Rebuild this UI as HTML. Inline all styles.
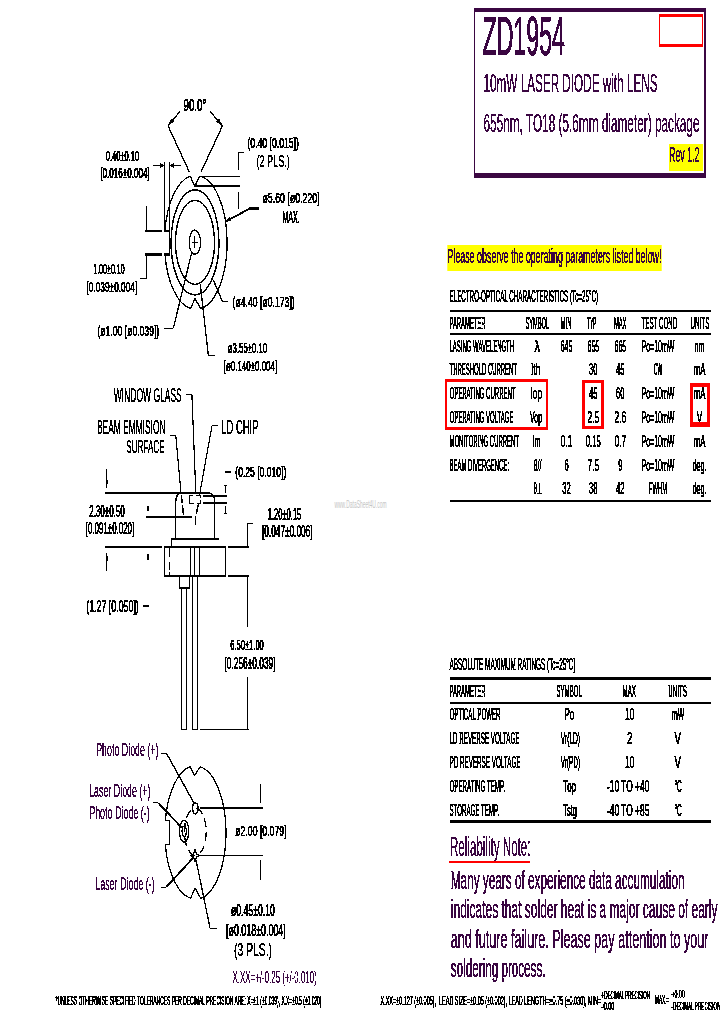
<!DOCTYPE html>
<html lang="en"><head><meta charset="utf-8"><title>ZD1954 10mW Laser Diode with Lens</title>
<style>
html,body{margin:0;padding:0;background:#fff;}
body{width:720px;height:1012px;overflow:hidden;position:relative;}
svg{position:absolute;left:0;top:0;display:block;}
svg text{font-family:"Liberation Sans",sans-serif;white-space:pre;}
</style></head><body>
<svg width="720" height="1012" viewBox="0 0 720 1012">
<defs><filter id="bin" x="0" y="0" width="720" height="1012" filterUnits="userSpaceOnUse" color-interpolation-filters="sRGB"><feComponentTransfer><feFuncA type="discrete" tableValues="0 0 1 1 1"/></feComponentTransfer></filter></defs>
<rect x="669.00" y="144.00" width="34.00" height="27.00" fill="#ff0"/>
<rect x="447.30" y="245.00" width="214.40" height="26.00" fill="#ff0"/>
<g filter="url(#bin)">
<rect x="474.00" y="8.00" width="232.00" height="4.00" fill="#3b0742"/>
<rect x="474.00" y="173.00" width="232.00" height="4.60" fill="#3b0742"/>
<rect x="474.00" y="8.00" width="1.30" height="169.00" fill="#3b0742"/>
<rect x="704.00" y="8.00" width="2.00" height="169.00" fill="#3b0742"/>
<rect x="659.00" y="14.00" width="44.00" height="3.00" fill="#f00"/>
<rect x="659.00" y="44.00" width="44.00" height="3.00" fill="#f00"/>
<rect x="659.00" y="14.00" width="1.00" height="33.00" fill="#f00"/>
<rect x="702.00" y="14.00" width="1.00" height="33.00" fill="#f00"/>
<text x="482.50" y="54.70" font-size="55.65" textLength="82.40" lengthAdjust="spacingAndGlyphs" fill="#3b0742" stroke="#3b0742" stroke-width="0.6">ZD1954</text>
<text x="483.50" y="91.60" font-size="25.80" textLength="174.00" lengthAdjust="spacingAndGlyphs" fill="#3b0742" stroke="#3b0742" stroke-width="0.2">10mW LASER DIODE with LENS</text>
<text x="483.50" y="131.90" font-size="25.80" textLength="216.00" lengthAdjust="spacingAndGlyphs" fill="#3b0742" stroke="#3b0742" stroke-width="0.2">655nm, TO18 (5.6mm diameter) package</text>
<text x="669.00" y="161.88" font-size="21.38" textLength="30.50" lengthAdjust="spacingAndGlyphs" fill="#3b0742" stroke="#3b0742" stroke-width="0.25">Rev 1.2</text>
<text x="447.50" y="263.18" font-size="20.65" textLength="214.00" lengthAdjust="spacingAndGlyphs" fill="#3b0742" stroke="#3b0742" stroke-width="0.25">Please observe the operating parameters listed below!</text>
<text x="449.50" y="301.77" font-size="16.30" textLength="148.50" lengthAdjust="spacingAndGlyphs" fill="#000" stroke="#000" stroke-width="0.45">ELECTRO-OPTICAL CHARACTERISTICS (Tc=25°C)</text>
<rect x="450.00" y="309.70" width="261.00" height="2.00" fill="#000"/>
<rect x="450.00" y="333.00" width="261.00" height="2.00" fill="#000"/>
<rect x="450.00" y="500.00" width="261.00" height="2.00" fill="#000"/>
<text x="449.50" y="328.77" font-size="16.30" textLength="36.00" lengthAdjust="spacingAndGlyphs" fill="#000" stroke="#000" stroke-width="0.45">PARAMETER</text>
<text x="525.50" y="328.77" font-size="16.30" textLength="23.70" lengthAdjust="spacingAndGlyphs" fill="#000" stroke="#000" stroke-width="0.45">SYMBOL</text>
<text x="560.50" y="328.77" font-size="16.30" textLength="11.00" lengthAdjust="spacingAndGlyphs" fill="#000" stroke="#000" stroke-width="0.45">MIN</text>
<text x="587.30" y="328.77" font-size="16.30" textLength="9.20" lengthAdjust="spacingAndGlyphs" fill="#000" stroke="#000" stroke-width="0.45">TYP</text>
<text x="613.90" y="328.77" font-size="16.30" textLength="12.60" lengthAdjust="spacingAndGlyphs" fill="#000" stroke="#000" stroke-width="0.45">MAX</text>
<text x="641.50" y="328.77" font-size="16.30" textLength="35.70" lengthAdjust="spacingAndGlyphs" fill="#000" stroke="#000" stroke-width="0.45">TEST COND</text>
<text x="690.50" y="328.77" font-size="16.30" textLength="19.00" lengthAdjust="spacingAndGlyphs" fill="#000" stroke="#000" stroke-width="0.45">UNITS</text>
<text x="449.50" y="351.77" font-size="16.30" textLength="64.50" lengthAdjust="spacingAndGlyphs" fill="#000" stroke="#000" stroke-width="0.45">LASING WAVELENGTH</text>
<text x="449.50" y="375.27" font-size="16.30" textLength="67.50" lengthAdjust="spacingAndGlyphs" fill="#000" stroke="#000" stroke-width="0.45">THRESHOLD CURRENT</text>
<text x="449.50" y="399.27" font-size="16.30" textLength="66.00" lengthAdjust="spacingAndGlyphs" fill="#000" stroke="#000" stroke-width="0.45">OPERATING CURRENT</text>
<text x="449.50" y="422.97" font-size="16.30" textLength="64.00" lengthAdjust="spacingAndGlyphs" fill="#000" stroke="#000" stroke-width="0.45">OPERATING VOLTAGE</text>
<text x="449.50" y="447.27" font-size="16.30" textLength="69.50" lengthAdjust="spacingAndGlyphs" fill="#000" stroke="#000" stroke-width="0.45">MONITORING CURRENT</text>
<text x="449.50" y="470.97" font-size="16.30" textLength="59.50" lengthAdjust="spacingAndGlyphs" fill="#000" stroke="#000" stroke-width="0.45">BEAM DIVERGENCE:</text>
<text x="534.50" y="351.77" font-size="16.30" textLength="5.50" lengthAdjust="spacingAndGlyphs" fill="#000" stroke="#000" stroke-width="0.45">λ</text>
<text x="531.00" y="375.27" font-size="16.30" textLength="9.50" lengthAdjust="spacingAndGlyphs" fill="#000" stroke="#000" stroke-width="0.45">Ith</text>
<text x="530.50" y="399.27" font-size="16.30" textLength="11.50" lengthAdjust="spacingAndGlyphs" fill="#000" stroke="#000" stroke-width="0.45">Iop</text>
<text x="530.00" y="422.97" font-size="16.30" textLength="12.00" lengthAdjust="spacingAndGlyphs" fill="#000" stroke="#000" stroke-width="0.45">Vop</text>
<text x="532.50" y="447.27" font-size="16.30" textLength="8.00" lengthAdjust="spacingAndGlyphs" fill="#000" stroke="#000" stroke-width="0.45">Im</text>
<text x="533.50" y="470.97" font-size="16.30" textLength="8.00" lengthAdjust="spacingAndGlyphs" fill="#000" stroke="#000" stroke-width="0.45">θ//</text>
<text x="533.50" y="494.07" font-size="16.30" textLength="8.50" lengthAdjust="spacingAndGlyphs" fill="#000" stroke="#000" stroke-width="0.45">θ⊥</text>
<text x="560.75" y="351.77" font-size="16.30" textLength="11.50" lengthAdjust="spacingAndGlyphs" fill="#000" stroke="#000" stroke-width="0.45">645</text>
<text x="587.55" y="351.77" font-size="16.30" textLength="11.50" lengthAdjust="spacingAndGlyphs" fill="#000" stroke="#000" stroke-width="0.45">655</text>
<text x="614.55" y="351.77" font-size="16.30" textLength="11.50" lengthAdjust="spacingAndGlyphs" fill="#000" stroke="#000" stroke-width="0.45">665</text>
<text x="641.50" y="351.77" font-size="16.30" textLength="33.00" lengthAdjust="spacingAndGlyphs" fill="#000" stroke="#000" stroke-width="0.45">Po=10mW</text>
<text x="694.50" y="351.77" font-size="16.30" textLength="10.00" lengthAdjust="spacingAndGlyphs" fill="#000" stroke="#000" stroke-width="0.45">nm</text>
<text x="589.05" y="375.27" font-size="16.30" textLength="8.50" lengthAdjust="spacingAndGlyphs" fill="#000" stroke="#000" stroke-width="0.45">30</text>
<text x="616.05" y="375.27" font-size="16.30" textLength="8.50" lengthAdjust="spacingAndGlyphs" fill="#000" stroke="#000" stroke-width="0.45">45</text>
<text x="653.75" y="375.27" font-size="16.30" textLength="8.50" lengthAdjust="spacingAndGlyphs" fill="#000" stroke="#000" stroke-width="0.45">CW</text>
<text x="693.75" y="375.27" font-size="16.30" textLength="11.50" lengthAdjust="spacingAndGlyphs" fill="#000" stroke="#000" stroke-width="0.45">mA</text>
<text x="589.05" y="399.27" font-size="16.30" textLength="8.50" lengthAdjust="spacingAndGlyphs" fill="#000" stroke="#000" stroke-width="0.45">45</text>
<text x="616.05" y="399.27" font-size="16.30" textLength="8.50" lengthAdjust="spacingAndGlyphs" fill="#000" stroke="#000" stroke-width="0.45">60</text>
<text x="641.50" y="399.27" font-size="16.30" textLength="33.00" lengthAdjust="spacingAndGlyphs" fill="#000" stroke="#000" stroke-width="0.45">Po=10mW</text>
<text x="693.75" y="399.27" font-size="16.30" textLength="11.50" lengthAdjust="spacingAndGlyphs" fill="#000" stroke="#000" stroke-width="0.45">mA</text>
<text x="587.55" y="422.97" font-size="16.30" textLength="11.50" lengthAdjust="spacingAndGlyphs" fill="#000" stroke="#000" stroke-width="0.45">2.5</text>
<text x="614.55" y="422.97" font-size="16.30" textLength="11.50" lengthAdjust="spacingAndGlyphs" fill="#000" stroke="#000" stroke-width="0.45">2.6</text>
<text x="641.50" y="422.97" font-size="16.30" textLength="33.00" lengthAdjust="spacingAndGlyphs" fill="#000" stroke="#000" stroke-width="0.45">Po=10mW</text>
<text x="696.75" y="422.97" font-size="16.30" textLength="5.50" lengthAdjust="spacingAndGlyphs" fill="#000" stroke="#000" stroke-width="0.45">V</text>
<text x="560.75" y="447.27" font-size="16.30" textLength="11.50" lengthAdjust="spacingAndGlyphs" fill="#000" stroke="#000" stroke-width="0.45">0.1</text>
<text x="585.80" y="447.27" font-size="16.30" textLength="15.00" lengthAdjust="spacingAndGlyphs" fill="#000" stroke="#000" stroke-width="0.45">0.15</text>
<text x="614.55" y="447.27" font-size="16.30" textLength="11.50" lengthAdjust="spacingAndGlyphs" fill="#000" stroke="#000" stroke-width="0.45">0.7</text>
<text x="641.50" y="447.27" font-size="16.30" textLength="33.00" lengthAdjust="spacingAndGlyphs" fill="#000" stroke="#000" stroke-width="0.45">Po=10mW</text>
<text x="693.75" y="447.27" font-size="16.30" textLength="11.50" lengthAdjust="spacingAndGlyphs" fill="#000" stroke="#000" stroke-width="0.45">mA</text>
<text x="564.40" y="470.97" font-size="16.30" textLength="4.20" lengthAdjust="spacingAndGlyphs" fill="#000" stroke="#000" stroke-width="0.45">6</text>
<text x="587.55" y="470.97" font-size="16.30" textLength="11.50" lengthAdjust="spacingAndGlyphs" fill="#000" stroke="#000" stroke-width="0.45">7.5</text>
<text x="618.20" y="470.97" font-size="16.30" textLength="4.20" lengthAdjust="spacingAndGlyphs" fill="#000" stroke="#000" stroke-width="0.45">9</text>
<text x="641.50" y="470.97" font-size="16.30" textLength="33.00" lengthAdjust="spacingAndGlyphs" fill="#000" stroke="#000" stroke-width="0.45">Po=10mW</text>
<text x="692.75" y="470.97" font-size="16.30" textLength="13.50" lengthAdjust="spacingAndGlyphs" fill="#000" stroke="#000" stroke-width="0.45">deg.</text>
<text x="562.25" y="494.07" font-size="16.30" textLength="8.50" lengthAdjust="spacingAndGlyphs" fill="#000" stroke="#000" stroke-width="0.45">32</text>
<text x="589.05" y="494.07" font-size="16.30" textLength="8.50" lengthAdjust="spacingAndGlyphs" fill="#000" stroke="#000" stroke-width="0.45">38</text>
<text x="616.05" y="494.07" font-size="16.30" textLength="8.50" lengthAdjust="spacingAndGlyphs" fill="#000" stroke="#000" stroke-width="0.45">42</text>
<text x="649.00" y="494.07" font-size="16.30" textLength="18.00" lengthAdjust="spacingAndGlyphs" fill="#000" stroke="#000" stroke-width="0.45">FWHM</text>
<text x="692.75" y="494.07" font-size="16.30" textLength="13.50" lengthAdjust="spacingAndGlyphs" fill="#000" stroke="#000" stroke-width="0.45">deg.</text>
<rect x="445.50" y="379.50" width="102.50" height="2.00" fill="#f00"/>
<rect x="445.50" y="427.00" width="102.50" height="3.00" fill="#f00"/>
<rect x="445.50" y="379.50" width="1.60" height="50.50" fill="#f00"/>
<rect x="546.40" y="379.50" width="1.60" height="50.50" fill="#f00"/>
<rect x="582.30" y="380.00" width="21.50" height="2.40" fill="#f00"/>
<rect x="582.30" y="426.00" width="21.50" height="2.40" fill="#f00"/>
<rect x="582.30" y="380.00" width="2.20" height="48.40" fill="#f00"/>
<rect x="601.60" y="380.00" width="2.20" height="48.40" fill="#f00"/>
<rect x="690.00" y="383.30" width="20.00" height="3.80" fill="#f00"/>
<rect x="690.00" y="422.00" width="20.00" height="4.80" fill="#f00"/>
<rect x="690.00" y="383.30" width="2.50" height="43.50" fill="#f00"/>
<rect x="707.50" y="383.30" width="2.50" height="43.50" fill="#f00"/>
<text x="449.50" y="669.77" font-size="16.30" textLength="126.00" lengthAdjust="spacingAndGlyphs" fill="#000" stroke="#000" stroke-width="0.45">ABSOLUTE MAXIMUM RATINGS (Tc=25°C)</text>
<rect x="450.00" y="677.50" width="261.00" height="2.00" fill="#000"/>
<rect x="450.00" y="702.00" width="261.00" height="2.00" fill="#000"/>
<rect x="450.00" y="820.50" width="261.00" height="2.00" fill="#000"/>
<text x="449.50" y="697.27" font-size="16.30" textLength="36.00" lengthAdjust="spacingAndGlyphs" fill="#000" stroke="#000" stroke-width="0.45">PARAMETER</text>
<text x="556.50" y="697.27" font-size="16.30" textLength="25.30" lengthAdjust="spacingAndGlyphs" fill="#000" stroke="#000" stroke-width="0.45">SYMBOL</text>
<text x="622.50" y="697.27" font-size="16.30" textLength="13.50" lengthAdjust="spacingAndGlyphs" fill="#000" stroke="#000" stroke-width="0.45">MAX</text>
<text x="668.30" y="697.27" font-size="16.30" textLength="18.50" lengthAdjust="spacingAndGlyphs" fill="#000" stroke="#000" stroke-width="0.45">UNITS</text>
<text x="449.50" y="720.27" font-size="16.30" textLength="51.00" lengthAdjust="spacingAndGlyphs" fill="#000" stroke="#000" stroke-width="0.45">OPTICAL POWER</text>
<text x="449.50" y="743.98" font-size="16.30" textLength="70.00" lengthAdjust="spacingAndGlyphs" fill="#000" stroke="#000" stroke-width="0.45">LD REVERSE VOLTAGE</text>
<text x="449.50" y="767.77" font-size="16.30" textLength="71.00" lengthAdjust="spacingAndGlyphs" fill="#000" stroke="#000" stroke-width="0.45">PD REVERSE VOLTAGE</text>
<text x="449.50" y="791.77" font-size="16.30" textLength="55.50" lengthAdjust="spacingAndGlyphs" fill="#000" stroke="#000" stroke-width="0.45">OPERATING TEMP.</text>
<text x="449.50" y="815.57" font-size="16.30" textLength="49.50" lengthAdjust="spacingAndGlyphs" fill="#000" stroke="#000" stroke-width="0.45">STORAGE TEMP.</text>
<text x="564.50" y="720.27" font-size="16.30" textLength="9.80" lengthAdjust="spacingAndGlyphs" fill="#000" stroke="#000" stroke-width="0.45">Po</text>
<text x="560.80" y="743.98" font-size="16.30" textLength="19.20" lengthAdjust="spacingAndGlyphs" fill="#000" stroke="#000" stroke-width="0.45">Vr(LD)</text>
<text x="560.80" y="767.77" font-size="16.30" textLength="19.20" lengthAdjust="spacingAndGlyphs" fill="#000" stroke="#000" stroke-width="0.45">Vr(PD)</text>
<text x="563.30" y="791.77" font-size="16.30" textLength="12.70" lengthAdjust="spacingAndGlyphs" fill="#000" stroke="#000" stroke-width="0.45">Top</text>
<text x="563.30" y="815.57" font-size="16.30" textLength="13.50" lengthAdjust="spacingAndGlyphs" fill="#000" stroke="#000" stroke-width="0.45">Tstg</text>
<text x="625.00" y="720.27" font-size="16.30" textLength="9.30" lengthAdjust="spacingAndGlyphs" fill="#000" stroke="#000" stroke-width="0.45">10</text>
<text x="627.00" y="743.98" font-size="16.30" textLength="5.50" lengthAdjust="spacingAndGlyphs" fill="#000" stroke="#000" stroke-width="0.45">2</text>
<text x="625.00" y="767.77" font-size="16.30" textLength="9.30" lengthAdjust="spacingAndGlyphs" fill="#000" stroke="#000" stroke-width="0.45">10</text>
<text x="607.00" y="791.77" font-size="16.30" textLength="42.30" lengthAdjust="spacingAndGlyphs" fill="#000" stroke="#000" stroke-width="0.45">-10 TO +40</text>
<text x="607.00" y="815.57" font-size="16.30" textLength="42.30" lengthAdjust="spacingAndGlyphs" fill="#000" stroke="#000" stroke-width="0.45">-40 TO +85</text>
<text x="672.00" y="720.27" font-size="16.30" textLength="12.30" lengthAdjust="spacingAndGlyphs" fill="#000" stroke="#000" stroke-width="0.45">mW</text>
<text x="674.50" y="743.98" font-size="16.30" textLength="6.50" lengthAdjust="spacingAndGlyphs" fill="#000" stroke="#000" stroke-width="0.45">V</text>
<text x="674.50" y="767.77" font-size="16.30" textLength="6.50" lengthAdjust="spacingAndGlyphs" fill="#000" stroke="#000" stroke-width="0.45">V</text>
<text x="674.50" y="791.77" font-size="16.30" textLength="7.30" lengthAdjust="spacingAndGlyphs" fill="#000" stroke="#000" stroke-width="0.45">°C</text>
<text x="674.50" y="815.57" font-size="16.30" textLength="7.30" lengthAdjust="spacingAndGlyphs" fill="#000" stroke="#000" stroke-width="0.45">°C</text>
<text x="450.00" y="855.85" font-size="27.97" textLength="80.50" lengthAdjust="spacingAndGlyphs" fill="#3b0742" stroke="#3b0742" stroke-width="0.1">Reliability Note:</text>
<rect x="449.00" y="861.00" width="81.00" height="2.00" fill="#f00"/>
<text x="450.80" y="888.65" font-size="24.93" textLength="233.70" lengthAdjust="spacingAndGlyphs" fill="#3b0742" stroke="#3b0742" stroke-width="0.3">Many years of experience data accumulation</text>
<text x="450.80" y="917.85" font-size="24.93" textLength="266.70" lengthAdjust="spacingAndGlyphs" fill="#3b0742" stroke="#3b0742" stroke-width="0.3">indicates that solder heat is a major cause of early</text>
<text x="450.80" y="947.85" font-size="24.93" textLength="257.70" lengthAdjust="spacingAndGlyphs" fill="#3b0742" stroke="#3b0742" stroke-width="0.3">and future failure. Please pay attention to your</text>
<text x="450.80" y="977.35" font-size="24.93" textLength="94.70" lengthAdjust="spacingAndGlyphs" fill="#3b0742" stroke="#3b0742" stroke-width="0.3">soldering process.</text>
<text x="55.50" y="1004.77" font-size="12.68" textLength="266.00" lengthAdjust="spacingAndGlyphs" fill="#000" stroke="#000" stroke-width="0.45">*UNLESS OTHERWISE SPECIFIED TOLERANCES PER DECIMAL PRECISION ARE: X=±1 (±0.039), X.X=±0.5 (±0.020)</text>
<text x="380.50" y="1004.77" font-size="12.68" textLength="220.70" lengthAdjust="spacingAndGlyphs" fill="#000" stroke="#000" stroke-width="0.45">X.XX=±0.127 (±0.005),  LEAD SIZE=±0.05 (±0.002), LEAD LENGTH=±0.75 (±0.030), MIN=</text>
<text x="601.50" y="999.27" font-size="10.94" textLength="48.50" lengthAdjust="spacingAndGlyphs" fill="#000" stroke="#000" stroke-width="0.45">+DECIMAL PRECISION</text>
<text x="601.50" y="1009.77" font-size="10.22" textLength="13.00" lengthAdjust="spacingAndGlyphs" fill="#000" stroke="#000" stroke-width="0.45">-0.00</text>
<text x="655.00" y="1004.27" font-size="12.68" textLength="14.30" lengthAdjust="spacingAndGlyphs" fill="#000" stroke="#000" stroke-width="0.45">MAX.=</text>
<text x="671.50" y="998.07" font-size="10.22" textLength="13.50" lengthAdjust="spacingAndGlyphs" fill="#000" stroke="#000" stroke-width="0.45">+0.00</text>
<text x="671.50" y="1009.77" font-size="10.94" textLength="49.00" lengthAdjust="spacingAndGlyphs" fill="#000" stroke="#000" stroke-width="0.45">-DECIMAL PRECISION</text>
<path d="M194.8,186.4 L199.5,176.3 A30.3,66.5 0 0 1 200.6,308.5 L195.0,298.4 L190.6,308.6 A30.3,66.5 0 0 1 164.93,254.2 L169.5,254.2 L169.5,231.0 L164.90,231.0 A30.3,66.5 0 0 1 190.3,176.3 Z" stroke="#000" stroke-width="1.1" fill="none"/>
<ellipse cx="195.00" cy="242.40" rx="23.90" ry="52.50" stroke="#000" stroke-width="1.3" fill="none"/>
<ellipse cx="195.00" cy="242.40" rx="19.50" ry="42.00" stroke="#000" stroke-width="1.2" fill="none"/>
<ellipse cx="194.90" cy="242.20" rx="5.70" ry="12.10" stroke="#000" stroke-width="1.1" fill="none"/>
<line x1="192.00" y1="242.50" x2="198.00" y2="242.50" stroke="#000" stroke-width="1"/>
<line x1="194.50" y1="236.00" x2="194.50" y2="248.00" stroke="#000" stroke-width="1"/>
<text x="183.50" y="110.58" font-size="16.74" textLength="22.80" lengthAdjust="spacingAndGlyphs" fill="#000" stroke="#000" stroke-width="0.45">90.0°</text>
<line x1="180.00" y1="111.30" x2="168.00" y2="125.80" stroke="#000" stroke-width="1.1"/>
<line x1="168.00" y1="125.80" x2="189.20" y2="171.70" stroke="#000" stroke-width="1.1"/>
<polygon points="168.30,125.40 171.22,118.73 174.30,121.28" fill="#000"/>
<line x1="210.00" y1="111.30" x2="222.50" y2="125.80" stroke="#000" stroke-width="1.1"/>
<line x1="222.50" y1="125.80" x2="200.80" y2="172.50" stroke="#000" stroke-width="1.1"/>
<polygon points="222.20,125.40 216.11,121.40 219.14,118.79" fill="#000"/>
<text x="105.80" y="161.08" font-size="15.00" textLength="33.40" lengthAdjust="spacingAndGlyphs" fill="#000" stroke="#000" stroke-width="0.45">0.40±0.10</text>
<text x="100.30" y="178.47" font-size="15.00" textLength="49.40" lengthAdjust="spacingAndGlyphs" fill="#000" stroke="#000" stroke-width="0.45">[0.016±0.004]</text>
<line x1="153.00" y1="165.50" x2="164.00" y2="165.50" stroke="#000" stroke-width="1"/>
<polygon points="164.30,165.50 159.80,167.70 159.80,163.30" fill="#000"/>
<line x1="170.00" y1="165.50" x2="181.00" y2="165.50" stroke="#000" stroke-width="1"/>
<polygon points="169.70,165.50 174.20,163.30 174.20,167.70" fill="#000"/>
<line x1="164.50" y1="162.00" x2="164.50" y2="231.00" stroke="#000" stroke-width="1"/>
<line x1="169.50" y1="162.00" x2="169.50" y2="231.00" stroke="#000" stroke-width="1"/>
<line x1="146.50" y1="206.00" x2="146.50" y2="231.00" stroke="#000" stroke-width="1"/>
<rect x="145.00" y="230.00" width="17.00" height="2.00" fill="#000"/>
<rect x="164.00" y="230.00" width="6.00" height="2.00" fill="#000"/>
<rect x="145.00" y="253.00" width="17.00" height="3.00" fill="#000"/>
<rect x="164.00" y="253.00" width="6.00" height="3.00" fill="#000"/>
<line x1="146.50" y1="254.00" x2="146.50" y2="278.00" stroke="#000" stroke-width="1"/>
<line x1="140.00" y1="278.50" x2="147.00" y2="278.50" stroke="#000" stroke-width="1"/>
<text x="93.20" y="274.47" font-size="15.00" textLength="31.50" lengthAdjust="spacingAndGlyphs" fill="#000" stroke="#000" stroke-width="0.45">1.00±0.10</text>
<text x="86.50" y="292.27" font-size="15.00" textLength="50.70" lengthAdjust="spacingAndGlyphs" fill="#000" stroke="#000" stroke-width="0.45">[0.039±0.004]</text>
<text x="247.50" y="148.08" font-size="15.00" textLength="51.30" lengthAdjust="spacingAndGlyphs" fill="#000" stroke="#000" stroke-width="0.45">(0.40 [0.015])</text>
<text x="256.50" y="166.68" font-size="16.74" textLength="33.20" lengthAdjust="spacingAndGlyphs" fill="#000" stroke="#000" stroke-width="0.25">(2 PLS.)</text>
<line x1="238.50" y1="152.00" x2="238.50" y2="170.00" stroke="#000" stroke-width="1"/>
<line x1="239.00" y1="152.50" x2="244.00" y2="152.50" stroke="#000" stroke-width="1"/>
<line x1="238.50" y1="192.00" x2="238.50" y2="209.00" stroke="#000" stroke-width="1"/>
<line x1="200.00" y1="176.50" x2="240.00" y2="176.50" stroke="#000" stroke-width="1"/>
<rect x="196.00" y="184.80" width="44.00" height="2.10" fill="#000"/>
<text x="262.50" y="203.47" font-size="15.00" textLength="57.20" lengthAdjust="spacingAndGlyphs" fill="#000" stroke="#000" stroke-width="0.45">ø5.60 [ø0.220]</text>
<text x="282.50" y="222.70" font-size="15.65" textLength="17.20" lengthAdjust="spacingAndGlyphs" fill="#000" stroke="#000" stroke-width="0.6">MAX.</text>
<rect x="249.00" y="207.00" width="10.00" height="3.00" fill="#000"/>
<line x1="250.00" y1="208.50" x2="225.50" y2="221.50" stroke="#000" stroke-width="1.7"/>
<polygon points="225.20,221.80 229.55,217.29 231.31,220.43" fill="#000"/>
<text x="232.50" y="306.77" font-size="15.00" textLength="62.20" lengthAdjust="spacingAndGlyphs" fill="#000" stroke="#000" stroke-width="0.45">(ø4.40 [ø0.173])</text>
<line x1="222.00" y1="301.50" x2="228.00" y2="301.50" stroke="#000" stroke-width="1"/>
<line x1="222.50" y1="301.70" x2="213.30" y2="280.00" stroke="#000" stroke-width="1.1"/>
<text x="227.80" y="353.07" font-size="15.00" textLength="39.40" lengthAdjust="spacingAndGlyphs" fill="#000" stroke="#000" stroke-width="0.45">ø3.55±0.10</text>
<text x="223.70" y="370.77" font-size="15.00" textLength="53.50" lengthAdjust="spacingAndGlyphs" fill="#000" stroke="#000" stroke-width="0.45">[ø0.140±0.004]</text>
<line x1="208.00" y1="355.50" x2="215.00" y2="355.50" stroke="#000" stroke-width="1"/>
<line x1="208.30" y1="355.30" x2="200.30" y2="284.20" stroke="#000" stroke-width="1.1"/>
<text x="97.50" y="336.47" font-size="15.00" textLength="61.70" lengthAdjust="spacingAndGlyphs" fill="#000" stroke="#000" stroke-width="0.45">(ø1.00 [ø0.039])</text>
<line x1="164.00" y1="328.50" x2="173.00" y2="328.50" stroke="#000" stroke-width="1"/>
<line x1="173.30" y1="328.30" x2="191.50" y2="253.50" stroke="#000" stroke-width="1.1"/>
<text x="113.70" y="401.60" font-size="20.00" textLength="68.10" lengthAdjust="spacingAndGlyphs" fill="#000" stroke="#000" stroke-width="0.2">WINDOW GLASS</text>
<text x="97.00" y="433.60" font-size="20.00" textLength="68.50" lengthAdjust="spacingAndGlyphs" fill="#000" stroke="#000" stroke-width="0.2">BEAM EMMISION</text>
<text x="126.20" y="452.90" font-size="18.99" textLength="38.50" lengthAdjust="spacingAndGlyphs" fill="#000" stroke="#000" stroke-width="0.2">SURFACE</text>
<text x="221.20" y="433.60" font-size="20.00" textLength="37.30" lengthAdjust="spacingAndGlyphs" fill="#000" stroke="#000" stroke-width="0.2">LD CHIP</text>
<rect x="186.00" y="394.00" width="6.00" height="1.00" fill="#000"/>
<line x1="191.90" y1="394.50" x2="195.90" y2="494.60" stroke="#000" stroke-width="1.0"/>
<rect x="195.00" y="516.00" width="1.00" height="9.00" fill="#000"/>
<rect x="170.00" y="435.00" width="6.00" height="1.00" fill="#000"/>
<line x1="175.80" y1="435.50" x2="181.00" y2="493.00" stroke="#000" stroke-width="1.0"/>
<line x1="181.40" y1="495.00" x2="182.20" y2="503.00" stroke="#000" stroke-width="1.3"/>
<line x1="182.50" y1="505.50" x2="183.40" y2="514.50" stroke="#000" stroke-width="1.3"/>
<rect x="212.00" y="425.00" width="6.00" height="1.00" fill="#000"/>
<line x1="212.00" y1="425.50" x2="199.60" y2="494.60" stroke="#000" stroke-width="1.0"/>
<line x1="198.60" y1="503.30" x2="196.20" y2="514.00" stroke="#000" stroke-width="1.3"/>
<rect x="105.00" y="492.00" width="105.00" height="2.00" fill="#000"/>
<path d="M175.5,538 L175.5,503 Q175.8,494.5 180,493.4 M209.5,493 Q214.2,494 214.5,500 L214.5,538" stroke="#000" stroke-width="1.25" fill="none"/>
<rect x="171.00" y="538.00" width="48.00" height="2.00" fill="#000"/>
<rect x="171.00" y="539.00" width="1.00" height="7.00" fill="#000"/>
<rect x="164.00" y="546.00" width="62.00" height="2.00" fill="#000"/>
<rect x="164.00" y="575.00" width="62.00" height="2.00" fill="#000"/>
<rect x="164.00" y="547.00" width="1.00" height="29.00" fill="#000"/>
<rect x="225.00" y="547.00" width="1.00" height="29.00" fill="#000"/>
<rect x="169.00" y="548.00" width="1.00" height="9.00" fill="#000"/>
<rect x="169.00" y="562.00" width="1.00" height="8.00" fill="#000"/>
<rect x="169.00" y="572.00" width="1.00" height="3.00" fill="#000"/>
<rect x="105.00" y="546.00" width="57.00" height="2.00" fill="#000"/>
<rect x="228.00" y="546.00" width="21.00" height="2.00" fill="#000"/>
<rect x="228.00" y="575.00" width="21.00" height="2.00" fill="#000"/>
<rect x="247.00" y="523.00" width="1.00" height="24.00" fill="#000"/>
<rect x="247.00" y="523.00" width="6.00" height="1.00" fill="#000"/>
<rect x="247.00" y="576.00" width="1.00" height="51.00" fill="#000"/>
<rect x="247.00" y="677.00" width="1.00" height="53.00" fill="#000"/>
<rect x="200.00" y="729.00" width="49.00" height="1.00" fill="#000"/>
<rect x="190.00" y="548.00" width="1.00" height="27.00" fill="#000"/>
<rect x="194.00" y="548.00" width="1.00" height="27.00" fill="#000"/>
<rect x="199.00" y="548.00" width="1.00" height="27.00" fill="#000"/>
<rect x="192.00" y="577.00" width="1.00" height="153.00" fill="#000"/>
<rect x="197.00" y="577.00" width="1.00" height="153.00" fill="#000"/>
<rect x="192.00" y="729.00" width="6.00" height="1.00" fill="#000"/>
<rect x="179.00" y="577.00" width="1.00" height="11.00" fill="#000"/>
<rect x="189.00" y="577.00" width="1.00" height="11.00" fill="#000"/>
<rect x="179.00" y="587.00" width="11.00" height="2.00" fill="#000"/>
<rect x="181.00" y="589.00" width="1.00" height="141.00" fill="#000"/>
<rect x="186.00" y="589.00" width="1.00" height="141.00" fill="#000"/>
<rect x="181.00" y="729.00" width="6.00" height="1.00" fill="#000"/>
<rect x="189.00" y="495.00" width="4.00" height="1.00" fill="#000"/>
<rect x="196.00" y="495.00" width="5.00" height="1.00" fill="#000"/>
<rect x="189.00" y="503.00" width="5.00" height="1.00" fill="#000"/>
<rect x="197.00" y="503.00" width="4.00" height="1.00" fill="#000"/>
<rect x="189.00" y="495.00" width="1.00" height="9.00" fill="#000"/>
<rect x="200.00" y="495.00" width="1.00" height="3.00" fill="#000"/>
<rect x="200.00" y="500.00" width="1.00" height="4.00" fill="#000"/>
<rect x="203.00" y="495.00" width="24.00" height="2.00" fill="#000"/>
<rect x="203.00" y="502.00" width="24.00" height="2.00" fill="#000"/>
<rect x="225.00" y="485.00" width="1.00" height="8.00" fill="#000"/>
<rect x="224.00" y="485.00" width="3.00" height="1.00" fill="#000"/>
<rect x="225.00" y="506.00" width="1.00" height="8.00" fill="#000"/>
<rect x="224.00" y="513.00" width="3.00" height="1.00" fill="#000"/>
<rect x="225.00" y="471.00" width="6.00" height="2.00" fill="#000"/>
<text x="235.30" y="477.27" font-size="14.13" textLength="51.00" lengthAdjust="spacingAndGlyphs" fill="#000" stroke="#000" stroke-width="0.45">(0.25 [0.010])</text>
<rect x="146.00" y="516.00" width="46.00" height="2.00" fill="#000"/>
<rect x="147.00" y="506.00" width="2.00" height="5.00" fill="#000"/>
<rect x="147.00" y="554.00" width="2.00" height="6.00" fill="#000"/>
<rect x="106.00" y="469.00" width="1.00" height="19.00" fill="#000"/>
<rect x="107.00" y="480.00" width="1.00" height="4.00" fill="#000"/>
<rect x="106.00" y="553.00" width="1.00" height="18.00" fill="#000"/>
<rect x="107.00" y="556.00" width="1.00" height="5.00" fill="#000"/>
<text x="89.20" y="516.77" font-size="15.58" textLength="35.50" lengthAdjust="spacingAndGlyphs" fill="#000" stroke="#000" stroke-width="0.45">2.30±0.50</text>
<text x="85.80" y="533.98" font-size="15.58" textLength="48.40" lengthAdjust="spacingAndGlyphs" fill="#000" stroke="#000" stroke-width="0.45">[0.091±0.020]</text>
<text x="267.80" y="520.07" font-size="16.01" textLength="33.50" lengthAdjust="spacingAndGlyphs" fill="#000" stroke="#000" stroke-width="0.45">1.20±0.15</text>
<text x="262.00" y="537.27" font-size="16.01" textLength="50.50" lengthAdjust="spacingAndGlyphs" fill="#000" stroke="#000" stroke-width="0.45">[0.047±0.006]</text>
<text x="86.20" y="612.07" font-size="16.01" textLength="52.60" lengthAdjust="spacingAndGlyphs" fill="#000" stroke="#000" stroke-width="0.45">(1.27 [0.050])</text>
<rect x="143.00" y="605.00" width="6.00" height="2.00" fill="#000"/>
<text x="230.20" y="649.77" font-size="15.00" textLength="33.60" lengthAdjust="spacingAndGlyphs" fill="#000" stroke="#000" stroke-width="0.45">6.50±1.00</text>
<text x="224.50" y="669.07" font-size="16.01" textLength="51.00" lengthAdjust="spacingAndGlyphs" fill="#000" stroke="#000" stroke-width="0.45">[0.256±0.039]</text>
<path d="M194.6,775.5 L200.0,766.8 A30.2,66.5 0 0 1 200.7,898.3 L195.2,888.5 L190.4,898.3 A30.2,66.5 0 0 1 165.30,844.5 L169.8,844.5 L169.8,820.8 L165.26,820.8 A30.2,66.5 0 0 1 190.3,766.8 Z" stroke="#000" stroke-width="1.1" fill="none"/>
<ellipse cx="195.30" cy="831.80" rx="10.90" ry="23.60" stroke="#000" stroke-width="1.1" fill="none" stroke-dasharray="9 5"/>
<ellipse cx="195.30" cy="808.30" rx="2.70" ry="5.50" stroke="#000" stroke-width="1.2" fill="none"/>
<ellipse cx="184.20" cy="831.30" rx="4.60" ry="11.00" stroke="#000" stroke-width="1.1" fill="none"/>
<ellipse cx="184.20" cy="831.30" rx="2.10" ry="5.20" stroke="#000" stroke-width="1.1" fill="none"/>
<path d="M195,849.5 L196.3,853.6 L199.3,855.5 L196.3,857.4 L195,861.5 L193.7,857.4 L190.7,855.5 L193.7,853.6 Z" stroke="#000" stroke-width="1.1" fill="none"/>
<rect x="200.00" y="807.00" width="63.00" height="2.20" fill="#000"/>
<line x1="200.00" y1="855.50" x2="263.00" y2="855.50" stroke="#000" stroke-width="1"/>
<line x1="260.50" y1="784.00" x2="260.50" y2="803.00" stroke="#000" stroke-width="1"/>
<line x1="260.50" y1="860.00" x2="260.50" y2="880.00" stroke="#000" stroke-width="1"/>
<text x="235.30" y="836.48" font-size="13.84" textLength="51.20" lengthAdjust="spacingAndGlyphs" fill="#000" stroke="#000" stroke-width="0.45">ø2.00 [0.079]</text>
<text x="96.20" y="755.72" font-size="18.04" textLength="62.30" lengthAdjust="spacingAndGlyphs" fill="#3b0742" stroke="#3b0742" stroke-width="0.15">Photo Diode (+)</text>
<text x="89.20" y="796.62" font-size="18.04" textLength="61.30" lengthAdjust="spacingAndGlyphs" fill="#3b0742" stroke="#3b0742" stroke-width="0.15">Laser Diode (+)</text>
<text x="89.20" y="818.62" font-size="18.04" textLength="60.50" lengthAdjust="spacingAndGlyphs" fill="#3b0742" stroke="#3b0742" stroke-width="0.15">Photo Diode (-)</text>
<text x="95.30" y="890.22" font-size="18.04" textLength="59.40" lengthAdjust="spacingAndGlyphs" fill="#3b0742" stroke="#3b0742" stroke-width="0.15">Laser Diode (-)</text>
<line x1="161.00" y1="753.50" x2="167.00" y2="753.50" stroke="#000" stroke-width="1"/>
<line x1="166.70" y1="753.70" x2="194.50" y2="804.00" stroke="#000" stroke-width="1.2"/>
<line x1="153.00" y1="802.50" x2="158.00" y2="802.50" stroke="#000" stroke-width="1"/>
<line x1="158.30" y1="802.80" x2="181.50" y2="827.50" stroke="#000" stroke-width="1.8"/>
<line x1="161.00" y1="887.50" x2="166.00" y2="887.50" stroke="#000" stroke-width="1"/>
<line x1="166.30" y1="887.00" x2="193.50" y2="857.50" stroke="#000" stroke-width="1.8"/>
<line x1="196.00" y1="860.00" x2="210.00" y2="927.80" stroke="#000" stroke-width="1.1"/>
<line x1="210.00" y1="928.50" x2="217.00" y2="928.50" stroke="#000" stroke-width="1"/>
<text x="231.00" y="915.77" font-size="16.74" textLength="43.80" lengthAdjust="spacingAndGlyphs" fill="#000" stroke="#000" stroke-width="0.45">ø0.45±0.10</text>
<text x="226.10" y="935.77" font-size="16.74" textLength="59.60" lengthAdjust="spacingAndGlyphs" fill="#000" stroke="#000" stroke-width="0.45">[ø0.018±0.004]</text>
<text x="234.10" y="955.90" font-size="17.83" textLength="37.90" lengthAdjust="spacingAndGlyphs" fill="#000" stroke="#000" stroke-width="0.2">(3 PLS.)</text>
<text x="232.50" y="982.60" font-size="16.81" textLength="84.30" lengthAdjust="spacingAndGlyphs" fill="#3b0742">X.XX=+/-0.25 (+/-0.010)</text>
</g>
<text x="334.5" y="507.8" font-size="10" textLength="52" lengthAdjust="spacingAndGlyphs" fill="#c4c4c4">www.DataSheet4U.com</text>
</svg>
</body></html>
